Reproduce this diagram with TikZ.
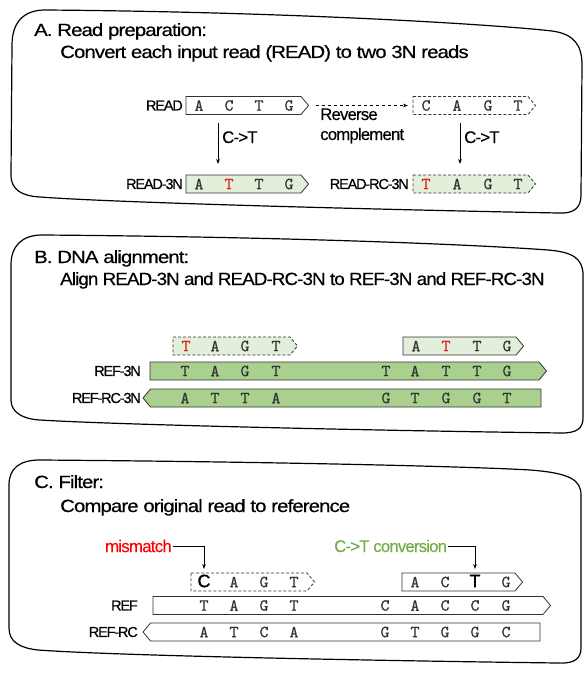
\documentclass[tikz,border=0pt]{standalone}
\usepackage{fontspec}
\setmainfont{Liberation Sans}
\newfontfamily\tight[LetterSpace=-5, FakeStretch=1.15, FakeBold=0.5]{Liberation Sans}
\newfontfamily\tightB[LetterSpace=-5, FakeStretch=1.06, FakeBold=0.5]{Liberation Sans}
\newfontfamily\labfont[LetterSpace=-8, FakeBold=0.5]{Liberation Sans}
\newfontfamily\notefont[LetterSpace=-5, FakeBold=0.3]{Liberation Sans}
\newfontfamily\boldbase[FakeBold=1]{Liberation Sans}
\newfontfamily\basefont[FakeBold=0.6]{lmmono10-regular.otf}
\usetikzlibrary{arrows.meta}
\definecolor{refgreen}{HTML}{A9D08E}
\definecolor{readgreen}{HTML}{E2EFDA}
\definecolor{convgreen}{HTML}{70AD47}
\definecolor{seqgray}{HTML}{333333}
\definecolor{mmred}{HTML}{FF0000}
\definecolor{basered}{HTML}{E02020}

% forward box: name, x1, x2, yc, style
\newcommand\fwdbox[5]{%
  \draw[#5] (#2,{#4-9}) -- (#3,{#4-9}) -- ({#3+7.5},#4) -- (#3,{#4+9}) -- (#2,{#4+9}) -- cycle;
  \coordinate (#1-w) at (#2,#4);
  \coordinate (#1-e) at ({#3+7.5},#4);
}
% reverse box: name, xtip, x2, yc, style
\newcommand\revbox[5]{%
  \draw[#5] ({#2+7.5},{#4-9}) -- (#3,{#4-9}) -- (#3,{#4+9}) -- ({#2+7.5},{#4+9}) -- (#2,#4) -- cycle;
  \coordinate (#1-w) at (#2,#4);
  \coordinate (#1-e) at (#3,#4);
}

\begin{document}
\begin{tikzpicture}[x=1pt,y=-1pt,
  panel/.style={draw=black, line width=1.2pt},
  title/.style={anchor=base west, inner sep=0, font=\tight\fontsize{17.7}{20}\selectfont},
  lab/.style={anchor=east, inner sep=0, font=\labfont\fontsize{14.5}{16}\selectfont},
  note/.style={anchor=base west, inner sep=0, font=\notefont\fontsize{16.8}{18}\selectfont},
  base/.style={inner sep=0, font=\basefont\fontsize{17}{17}\selectfont, text=seqgray},
  redbase/.style={base, text=basered},
  bigbase/.style={inner sep=0, font=\boldbase\fontsize{18}{18}\selectfont, text=black},
  solidbox/.style={draw=seqgray, line width=0.8pt},
  dashbox/.style={draw=seqgray, line width=0.8pt, dash pattern=on 3pt off 2pt},
  arr/.style={draw=black, line width=0.7pt, -{Stealth[length=5pt,width=3.6pt]}},
]
\useasboundingbox (0,0) rectangle (588,674);

% ---------------- panels ----------------
\draw[panel] (12,45) .. controls (12,22) and (24,10) .. (45,10)
  .. controls (300,12) and (500,25) .. (552,31)
  .. controls (574,34) and (582,45) .. (582,65)
  -- (581,195) .. controls (581,207) and (575,214) .. (558,213)
  .. controls (400,210) and (120,203) .. (40,197)
  .. controls (22,196) and (11,190) .. (11,175) -- cycle;

\draw[panel] (11,265) .. controls (11,246) and (22,235) .. (42,235)
  .. controls (300,237) and (480,245) .. (548,250)
  .. controls (572,252) and (583,258) .. (583,275)
  -- (583,418) .. controls (583,428) and (577,433) .. (562,433)
  .. controls (400,431) and (120,425) .. (40,420)
  .. controls (22,419) and (11,412) .. (11,400) -- cycle;

\draw[panel] (9,485) .. controls (9,468) and (20,460) .. (40,460)
  .. controls (300,462) and (480,467) .. (530,470)
  .. controls (570,473) and (581,480) .. (581,495)
  -- (581,648) .. controls (581,658) and (575,664) .. (558,663)
  .. controls (400,661) and (120,656) .. (38,650)
  .. controls (20,648) and (9,642) .. (9,628) -- cycle;

% ---------------- panel A ----------------
\node[title] (ta) at (34,36) {A. Read preparation:};
\node[title] (sa) at (60,58) {Convert each input read (READ) to two 3N reads};

\fwdbox{read}{186}{301}{105.5}{solidbox}
\fwdbox{rc}{413}{528}{105.5}{dashbox}
\fwdbox{r3n}{186}{301}{184}{solidbox, fill=readgreen}
\fwdbox{rc3n}{413}{528}{184}{dashbox, fill=readgreen}

\node[lab] (lread) at (183,105.5) {READ};
\node[lab] (lr3n) at (183,184) {READ-3N};
\node[lab] (lrc3n) at (409,184) {READ-RC-3N};

\foreach \x/\b [count=\i] in {199/A,229/C,259/T,289/G}
  \node[base] (readb\i) at (\x,105.5) {\b};
\foreach \x/\b [count=\i] in {426/C,457/A,488/G,518/T}
  \node[base] (rcb\i) at (\x,105.5) {\b};
\foreach \x/\b/\s [count=\i] in {199/A/base,229/T/redbase,259/T/base,289/G/base}
  \node[\s] (r3nb\i) at (\x,184) {\b};
\foreach \x/\b/\s [count=\i] in {426/T/redbase,457/A/base,488/G/base,518/T/base}
  \node[\s] (rc3nb\i) at (\x,184) {\b};

\draw[arr, dashed] ([xshift=7pt]read-e) -- ([xshift=-5pt]rc-w);
\node[note] (rev) at (320,120) {Reverse};
\node[note] (comp) at (320,140) {complement};

\coordinate (a1s) at (218,123);
\coordinate (a1e) at (218,164);
\coordinate (a2s) at (460,123);
\coordinate (a2e) at (460,164);
\draw[arr] (a1s) -- (a1e);
\draw[arr] (a2s) -- (a2e);
\node[note] (ct1) at (222,143) {C->T};
\node[note] (ct2) at (464,143) {C->T};

% ---------------- panel B ----------------
\node[title] (tb) at (34,263) {B. DNA alignment:};
\node[title, font=\tightB\fontsize{17.7}{20}\selectfont] (sb) at (60,285) {Align READ-3N and READ-RC-3N to REF-3N and REF-RC-3N};

\fwdbox{bread1}{173}{290}{346}{dashbox, fill=readgreen}
\fwdbox{bread2}{403}{516}{346}{solidbox, fill=readgreen}
\fwdbox{ref3n}{150}{539}{371}{solidbox, fill=refgreen}
\revbox{refrc3n}{143}{541}{398}{solidbox, fill=refgreen}

\node[lab] (lref3n) at (141,371) {REF-3N};
\node[lab] (lrefrc3n) at (141,398) {REF-RC-3N};

\foreach \x/\b/\s [count=\i] in {186/T/redbase,215/A/base,245/G/base,276/T/base}
  \node[\s] (br1b\i) at (\x,346) {\b};
\foreach \x/\b/\s [count=\i] in {416/A/base,446/T/redbase,477/T/base,507/G/base}
  \node[\s] (br2b\i) at (\x,346) {\b};
\foreach \x/\b [count=\i] in {185/T,215/A,245/G,276/T,386/T,415/A,446/T,477/T,507/G}
  \node[base] (ref3nb\i) at (\x,371) {\b};
\foreach \x/\b [count=\i] in {185/A,215/T,245/T,276/A,386/G,415/T,446/G,477/G,507/T}
  \node[base] (refrc3nb\i) at (\x,398) {\b};

% ---------------- panel C ----------------
\node[title] (tc) at (34,488) {C. Filter:};
\node[title] (sc) at (60,512) {Compare original read to reference};

\fwdbox{cread1}{191}{307}{582}{dashbox}
\fwdbox{cread2}{402}{515}{582}{solidbox}
\fwdbox{ref}{153}{543}{605.5}{solidbox}
\revbox{refrc}{143}{540}{632}{solidbox}

\node[lab] (lref) at (138,605.5) {REF};
\node[lab] (lrefrc) at (138,632) {REF-RC};

\node[bigbase] (mmc) at (204,581) {C};
\foreach \x/\b [count=\i] in {234/A,264/G,294/T}
  \node[base] (cr1b\i) at (\x,582) {\b};
\foreach \x/\b [count=\i] in {415/A,445/C,506/G}
  \node[base] (cr2b\i) at (\x,582) {\b};
\node[bigbase] (cvt) at (475,581) {T};
\foreach \x/\b [count=\i] in {204/T,234/A,264/G,294/T,385/C,415/A,445/C,475/C,506/G}
  \node[base] (refb\i) at (\x,605.5) {\b};
\foreach \x/\b [count=\i] in {204/A,234/T,264/C,294/A,385/G,415/T,445/G,475/G,506/C}
  \node[base] (refrcb\i) at (\x,632) {\b};

\node[anchor=east, inner sep=0, text=mmred, font=\notefont\fontsize{17}{18}\selectfont] (mm) at (172,546) {mismatch};
\node[anchor=west, inner sep=0, text=convgreen, font=\notefont\fontsize{16.8}{18}\selectfont] (conv) at (334,546) {C->T conversion};
\coordinate (mmtip) at (204,569);
\coordinate (cvtip) at (475,569);
\draw[arr] ([xshift=1pt]mm.east) -| (mmtip);
\draw[arr] ([xshift=1pt]conv.east) -| (cvtip);
\end{tikzpicture}
\end{document}
